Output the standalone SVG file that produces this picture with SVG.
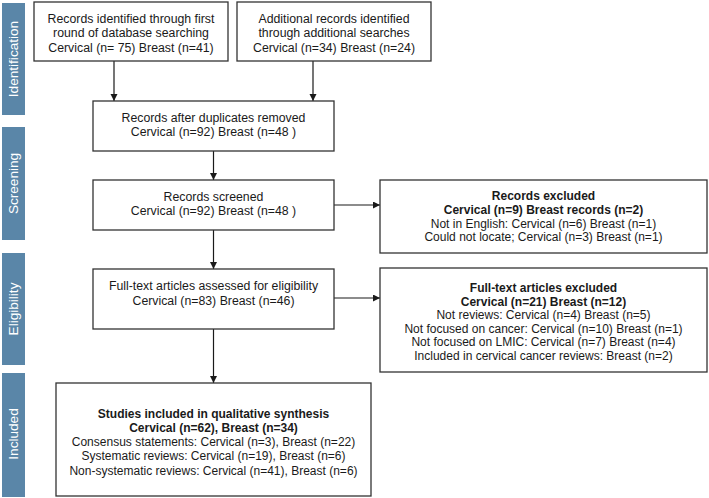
<svg xmlns="http://www.w3.org/2000/svg" width="709" height="498" viewBox="0 0 709 498">
<style>
  .bar { fill: #5a86a8; }
  .bartxt { font-family: "Liberation Sans", Arial, Helvetica, sans-serif; font-size: 13.6px; fill: #ffffff; text-anchor: middle; }
  .box { fill: #ffffff; stroke: #333333; stroke-width: 1.3; }
  .t { font-family: "Liberation Sans", Arial, Helvetica, sans-serif; font-size: 12.3px; fill: #1a1a1a; text-anchor: middle; }
  .s { font-size: 12px; }
  .b { font-weight: bold; }
  .conn { fill: none; stroke: #1a1a1a; stroke-width: 1.2; marker-end: url(#arr); }
</style>
<defs>
  <marker id="arr" markerUnits="userSpaceOnUse" markerWidth="8" markerHeight="8" refX="7" refY="3.5" orient="auto">
    <path d="M0,0 L7,3.5 L0,7 z" fill="#1a1a1a"/>
  </marker>
</defs>
<rect width="709" height="498" fill="#ffffff"/>

<g id="phases">
  <rect class="bar" x="2" y="3" width="23" height="112"/>
  <text class="bartxt" transform="translate(18.4,59) rotate(-90)">Identification</text>
  <rect class="bar" x="2" y="127" width="23" height="113"/>
  <text class="bartxt" transform="translate(18.4,183.5) rotate(-90)">Screening</text>
  <rect class="bar" x="2" y="253" width="23" height="112"/>
  <text class="bartxt" transform="translate(18.4,309) rotate(-90)">Eligibility</text>
  <rect class="bar" x="2" y="373" width="23" height="124"/>
  <text class="bartxt" transform="translate(18.4,434) rotate(-90)">Included</text>
</g>

<g id="connectors">
  <line class="conn" x1="114" y1="61" x2="114" y2="101"/>
  <line class="conn" x1="313" y1="61" x2="313" y2="101"/>
  <line class="conn" x1="213.5" y1="151" x2="213.5" y2="180"/>
  <line class="conn" x1="213.5" y1="230" x2="213.5" y2="269"/>
  <line class="conn" x1="213.5" y1="329" x2="213.5" y2="383"/>
  <line class="conn" x1="334" y1="205" x2="380" y2="205"/>
  <line class="conn" x1="334" y1="298" x2="380" y2="298"/>
</g>

<g id="n-first-search">
  <rect class="box" x="34" y="2" width="194" height="59"/>
  <text class="t" x="131" y="22.5">Records identified through first</text>
  <text class="t" x="131" y="37">round of database searching</text>
  <text class="t" x="131" y="51.5">Cervical (n= 75) Breast (n=41)</text>
</g>

<g id="n-additional">
  <rect class="box" x="237" y="2" width="194" height="59"/>
  <text class="t" x="334" y="22.5">Additional records identified</text>
  <text class="t" x="334" y="37">through additional searches</text>
  <text class="t" x="334" y="51.5">Cervical (n=34) Breast (n=24)</text>
</g>

<g id="n-duplicates">
  <rect class="box" x="93" y="101" width="241" height="50"/>
  <text class="t" x="213.5" y="121.5">Records after duplicates removed</text>
  <text class="t" x="213.5" y="136">Cervical (n=92) Breast (n=48 )</text>
</g>

<g id="n-screened">
  <rect class="box" x="93" y="180" width="241" height="50"/>
  <text class="t" x="213.5" y="201">Records screened</text>
  <text class="t" x="213.5" y="215">Cervical (n=92) Breast (n=48 )</text>
</g>

<g id="n-eligibility">
  <rect class="box" x="93" y="269" width="241" height="60"/>
  <text class="t" x="213.5" y="290">Full-text articles assessed for eligibility</text>
  <text class="t" x="213.5" y="304.5">Cervical (n=83) Breast (n=46)</text>
</g>

<g id="n-records-excluded">
  <rect class="box" x="380" y="180" width="327" height="73"/>
  <text class="t s b" x="543.5" y="200">Records excluded</text>
  <text class="t s b" x="543.5" y="214">Cervical (n=9) Breast records (n=2)</text>
  <text class="t s" x="543.5" y="227.5">Not in English: Cervical (n=6) Breast (n=1)</text>
  <text class="t s" x="543.5" y="241">Could not locate; Cervical (n=3) Breast (n=1)</text>
</g>

<g id="n-fulltext-excluded">
  <rect class="box" x="380" y="268" width="327" height="104"/>
  <text class="t s b" x="543.5" y="292">Full-text articles excluded</text>
  <text class="t s b" x="543.5" y="305.5">Cervical (n=21) Breast (n=12)</text>
  <text class="t s" x="543.5" y="319">Not reviews: Cervical (n=4) Breast (n=5)</text>
  <text class="t s" x="543.5" y="332.5">Not focused on cancer: Cervical (n=10) Breast (n=1)</text>
  <text class="t s" x="543.5" y="346">Not focused on LMIC: Cervical (n=7) Breast (n=4)</text>
  <text class="t s" x="543.5" y="359.5">Included in cervical cancer reviews: Breast (n=2)</text>
</g>

<g id="n-included">
  <rect class="box" x="56" y="383" width="315" height="113"/>
  <text class="t s b" x="213.5" y="418">Studies included in qualitative synthesis</text>
  <text class="t s b" x="213.5" y="432">Cervical (n=62), Breast (n=34)</text>
  <text class="t s" x="213.5" y="446">Consensus statements: Cervical (n=3), Breast (n=22)</text>
  <text class="t s" x="213.5" y="460">Systematic reviews: Cervical (n=19), Breast (n=6)</text>
  <text class="t s" x="213.5" y="474.5">Non-systematic reviews: Cervical (n=41), Breast (n=6)</text>
</g>
</svg>
